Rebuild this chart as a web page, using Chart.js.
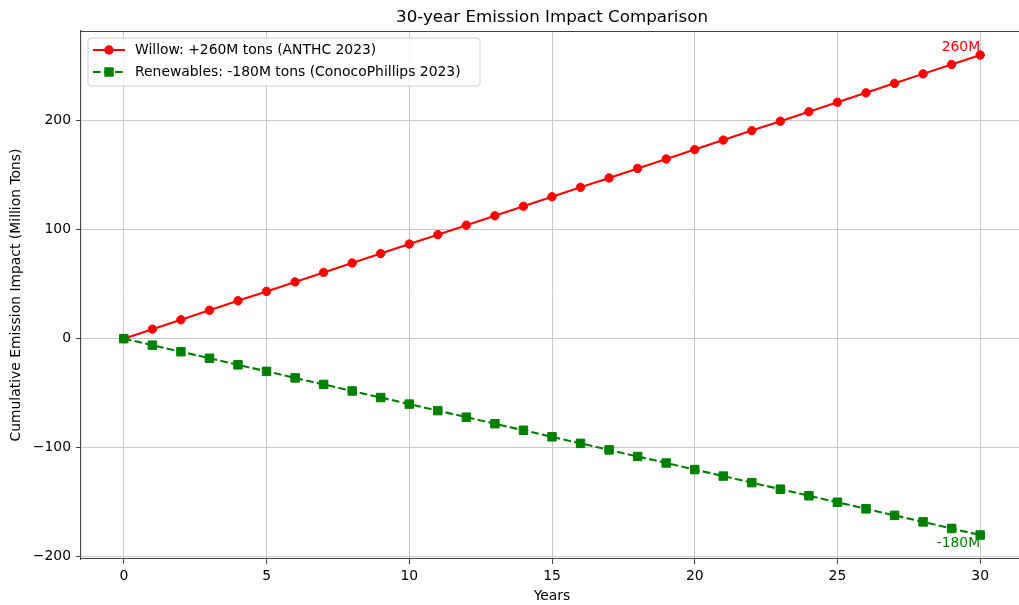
<!DOCTYPE html>
<html>
<head>
<meta charset="utf-8">
<script src="https://cdn.jsdelivr.net/npm/chart.js@4/dist/chart.umd.min.js"></script>
<style>
html,body{margin:0;padding:0;background:#fff;overflow:hidden;width:1019px;height:605px;}
#wrap{position:absolute;left:0;top:0;width:1019px;height:605px;overflow:hidden;}
#c{position:absolute;left:0;top:0;}
</style>
</head>
<body>
<div id="wrap"><canvas id="c" width="1030" height="605"></canvas></div>
<script>
const years = [0,1,2,3,4,5,6,7,8,9,10,11,12,13,14,15,16,17,18,19,20,21,22,23,24,25,26,27,28,29,30];
const willow = [0,8.7,17.3,26,34.7,43.3,52,60.7,69.3,78,86.7,95.3,104,112.7,121.3,130,138.7,147.3,156,164.7,173.3,182,190.7,199.3,208,216.7,225.3,234,242.7,251.3,260];
const renewables = [0,-6,-12,-18,-24,-30,-36,-42,-48,-54,-60,-66,-72,-78,-84,-90,-96,-102,-108,-114,-120,-126,-132,-138,-144,-150,-156,-162,-168,-174,-180];
const xTicks = [0,5,10,15,20,25,30];
const yTicks = [-200,-100,0,100,200];
const seriesLabels = ['Willow: +260M tons (ANTHC 2023)', 'Renewables: -180M tons (ConocoPhillips 2023)'];
const endLabels = ['260M', '-180M'];
const titleText = '30-year Emission Impact Comparison';
const xTitle = 'Years';
const yTitle = 'Cumulative Emission Impact (Million Tons)';

const FONT = '"DejaVu Sans", sans-serif';
const RED = '#ff0000', GREEN = '#008000';
const SPINE = '#444';
const GRID = '#c8c8c8';

const overlay = {
  id: 'overlay',
  afterDatasetsDraw(chart) {
    const ctx = chart.ctx, a = chart.chartArea;
    const xs = chart.scales.x, ys = chart.scales.y;
    ctx.save();
    // top spine
    ctx.strokeStyle = SPINE; ctx.lineWidth = 1.1;
    ctx.beginPath();
    ctx.moveTo(a.left, a.top + 0.5); ctx.lineTo(a.right, a.top + 0.5);
    ctx.stroke();

    // annotations
    ctx.font = '13.9px ' + FONT;
    ctx.textAlign = 'right';
    ctx.fillStyle = RED; ctx.textBaseline = 'alphabetic';
    ctx.fillText(endLabels[0], xs.getPixelForValue(years[30]), ys.getPixelForValue(willow[30]) - 4.5);
    ctx.fillStyle = GREEN; ctx.textBaseline = 'top';
    ctx.fillText(endLabels[1], xs.getPixelForValue(years[30]), ys.getPixelForValue(renewables[30]) + 1);

    // legend
    const lx = 88, ly = 38, lw = 392, lh = 48, r = 3;
    ctx.beginPath();
    ctx.moveTo(lx + r, ly); ctx.lineTo(lx + lw - r, ly); ctx.quadraticCurveTo(lx + lw, ly, lx + lw, ly + r);
    ctx.lineTo(lx + lw, ly + lh - r); ctx.quadraticCurveTo(lx + lw, ly + lh, lx + lw - r, ly + lh);
    ctx.lineTo(lx + r, ly + lh); ctx.quadraticCurveTo(lx, ly + lh, lx, ly + lh - r);
    ctx.lineTo(lx, ly + r); ctx.quadraticCurveTo(lx, ly, lx + r, ly);
    ctx.closePath();
    ctx.fillStyle = 'rgba(255,255,255,0.8)'; ctx.fill();
    ctx.strokeStyle = '#d0d0d0'; ctx.lineWidth = 1; ctx.stroke();

    const rows = [50, 72];
    ctx.strokeStyle = RED; ctx.lineWidth = 2.1; ctx.setLineDash([]);
    ctx.beginPath(); ctx.moveTo(93, rows[0]); ctx.lineTo(125, rows[0]); ctx.stroke();
    ctx.fillStyle = RED; ctx.beginPath(); ctx.arc(109, rows[0], 4.7, 0, Math.PI * 2); ctx.fill();
    ctx.strokeStyle = GREEN; ctx.setLineDash([7.7, 3.3]);
    ctx.beginPath(); ctx.moveTo(93, rows[1]); ctx.lineTo(125, rows[1]); ctx.stroke();
    ctx.setLineDash([]);
    ctx.fillStyle = GREEN; ctx.fillRect(109 - 4.7, rows[1] - 4.7, 9.4, 9.4);

    ctx.fillStyle = '#000'; ctx.textAlign = 'left'; ctx.textBaseline = 'middle';
    ctx.font = '13.9px ' + FONT;
    ctx.fillText(seriesLabels[0], 135, rows[0]);
    ctx.fillText(seriesLabels[1], 135, rows[1]);

    // title & axis titles
    const cx = (a.left + a.right) / 2;
    ctx.textAlign = 'center'; ctx.textBaseline = 'alphabetic';
    ctx.font = '16.7px ' + FONT;
    ctx.fillText(titleText, cx, 22);
    ctx.font = '13.9px ' + FONT;
    ctx.textBaseline = 'middle';
    ctx.fillText(xTitle, cx, 596);
    ctx.save();
    ctx.translate(16, (a.top + a.bottom) / 2);
    ctx.rotate(-Math.PI / 2);
    ctx.fillText(yTitle, 0, 0);
    ctx.restore();
    ctx.restore();
  }
};

const fmtMinus = v => (v < 0 ? '\u2212' + Math.abs(v) : String(v));

new Chart(document.getElementById('c'), {
  type: 'line',
  data: {
    datasets: [
      {
        label: seriesLabels[0],
        data: years.map((x, i) => ({x, y: willow[i]})),
        borderColor: RED, backgroundColor: RED,
        borderWidth: 2.1, pointStyle: 'circle', pointRadius: 4.2,
        pointBorderWidth: 1, pointBorderColor: RED, pointBackgroundColor: RED,
        tension: 0, order: 1
      },
      {
        label: seriesLabels[1],
        data: years.map((x, i) => ({x, y: renewables[i]})),
        borderColor: GREEN, backgroundColor: GREEN,
        borderWidth: 2.1, borderDash: [7.7, 3.3], pointStyle: 'rect', pointRadius: 6,
        pointBorderWidth: 1, pointBorderColor: GREEN, pointBackgroundColor: GREEN,
        tension: 0, order: 0
      }
    ]
  },
  options: {
    responsive: false,
    animation: false,
    devicePixelRatio: 1,
    layout: { padding: { top: 31, right: 3, left: 0, bottom: 0 } },
    plugins: { legend: { display: false }, tooltip: { enabled: false }, title: { display: false } },
    scales: {
      x: {
        type: 'linear', min: -1.5, max: 31.5,
        afterBuildTicks: s => { s.ticks = xTicks.map(v => ({value: v})); },
        afterFit: s => { s.height = 46; },
        grid: { color: GRID, lineWidth: 1, tickColor: SPINE, tickLength: 5, drawTicks: true },
        border: { color: SPINE, width: 1.1 },
        ticks: { color: '#000', font: { family: FONT, size: 13.9 }, padding: 4, maxRotation: 0, callback: v => fmtMinus(v) }
      },
      y: {
        type: 'linear', min: -202, max: 282,
        afterBuildTicks: s => { s.ticks = yTicks.map(v => ({value: v})); },
        afterFit: s => { s.width = 81; },
        grid: { color: GRID, lineWidth: 1, tickColor: SPINE, tickLength: 5, drawTicks: true },
        border: { color: SPINE, width: 1.1 },
        ticks: { color: '#000', font: { family: FONT, size: 13.9 }, padding: 5, callback: v => fmtMinus(v) }
      }
    }
  },
  plugins: [overlay]
});
</script>
</body>
</html>
